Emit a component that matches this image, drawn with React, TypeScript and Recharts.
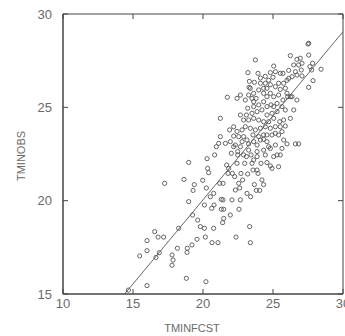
import { ScatterChart, Scatter, XAxis, YAxis, ReferenceLine, CartesianGrid, Label } from "recharts";

const fcst = [
  14.67, 16.0, 15.48, 16.0, 16.0, 16.55, 16.64, 16.79, 16.88, 17.19, 17.26, 17.79, 17.79, 17.86, 18.17, 18.26,
  18.64, 18.81, 18.86, 18.88, 18.98, 18.98, 19.21, 19.26, 19.29, 19.38, 19.57, 19.62, 19.81, 19.98, 20.1, 20.1,
  20.17, 20.21, 20.24, 20.29, 20.33, 20.4, 20.52, 20.62, 20.64, 20.76, 20.76, 20.79, 20.83, 20.95, 21.07, 21.12,
  21.19, 21.24, 21.24, 21.31, 21.31, 21.4, 21.43, 21.43, 21.48, 21.48, 21.6, 21.69, 21.74, 21.79, 21.83, 21.9,
  21.95, 22.02, 22.07, 22.1, 22.19, 22.19, 22.26, 22.31, 22.36, 22.43, 22.43, 22.48, 22.55, 22.57, 22.62, 22.67,
  22.67, 22.71, 22.79, 22.83, 22.9, 22.98, 23.02, 23.1, 23.14, 23.19, 23.26, 23.29, 23.33, 23.38, 23.4, 23.43,
  23.5, 23.57, 23.62, 23.67, 23.74, 23.81, 23.86, 23.93, 24.05, 24.14, 24.21, 24.33, 24.45, 24.57, 24.69, 24.81,
  24.93, 25.05, 25.17, 25.29, 25.4, 25.52, 25.64, 25.76, 25.88, 26.0, 26.24, 26.48, 26.6, 26.71, 26.83, 26.36,
  // upper cluster
  27.5, 27.55, 27.55, 27.55, 27.83, 27.86, 28.43, 27.76, 27.64, 26.95, 27.07, 26.71, 26.83, 26.48, 26.6, 26.24,
  26.12, 26.12, 26.36, 26.71, 27.02, 27.07, 26.0, 25.76, 25.52, 25.71, 25.05, 24.81, 25.0, 24.69, 24.81, 24.45,
  24.33, 24.57, 25.17, 25.4, 25.52, 25.88, 26.0, 26.24, 26.05, 25.71, 25.4, 25.05, 24.81, 24.57, 24.33, 23.98,
  24.1, 23.93, 23.62, 23.5, 23.26, 23.02, 23.19, 23.62, 23.98, 24.33, 24.57, 24.86, 25.05, 25.29, 25.64, 25.88,
  25.29, 24.93, 24.57, 24.21, 23.86, 23.5, 23.1, 22.67, 22.9, 23.26, 23.62, 23.98, 24.33, 24.69, 25.05, 25.48,
  25.76, 25.52, 25.17, 24.81, 24.45, 24.1, 23.74, 23.38, 22.79, 22.43, 22.19, 22.55, 22.9, 23.57, 23.98, 24.33,
  24.57, 24.93, 25.17, 25.4, 25.64, 24.1, 24.33, 24.57, 23.86, 23.62, 23.14, 22.67, 22.31, 21.95, 22.48, 23.26,
  23.86, 24.33, 24.81, 23.86, 23.21, 23.31, 23.38, 23.67, 24.1, 24.45, 25.17, 23.62, 23.79,
];
const obs = [
  15.21, 15.45, 17.04, 17.86, 17.32, 18.34, 16.96, 18.05, 17.21, 18.05, 20.93, 17.09, 16.54, 16.82, 17.45, 18.52,
  21.14, 15.84, 17.23, 17.45, 22.05, 19.95, 17.63, 19.23, 20.55, 20.86, 17.93, 18.96, 18.61, 21.09, 19.77, 18.52,
  18.05, 15.66, 20.68, 22.25, 21.73, 21.5, 20.21, 19.59, 17.75, 18.52, 20.39, 19.77, 22.45, 22.89, 17.75, 23.07,
  20.93, 23.43, 24.41, 20.07, 19.54, 18.82, 20.93, 20.04, 19.54, 19.05, 23.07, 21.91, 25.54, 21.46, 21.73, 23.79,
  19.23, 22.54, 20.04, 21.46, 23.46, 22.89, 21.29, 20.57, 18.05, 22.0, 25.48, 22.45, 20.93, 19.54, 20.68, 20.04,
  25.66, 21.46, 23.16, 21.11, 22.45, 22.0, 23.96, 22.36, 20.39, 21.43, 23.04, 26.07, 18.61, 17.75, 20.21, 22.45,
  22.0, 21.64, 22.18, 20.86, 27.54, 20.55, 21.64, 21.46, 20.55, 22.0, 21.11, 20.86, 22.45, 22.04, 22.89, 21.86,
  21.73, 22.36, 22.98, 22.45, 21.82, 22.45, 22.8, 23.25, 24.0, 23.04, 24.41, 24.86, 23.04, 25.39, 23.04, 25.57,
  // upper cluster
  28.39, 28.43, 27.8, 26.07, 27.36, 26.43, 27.04, 27.0, 27.18, 27.63, 27.36, 27.57, 27.27, 27.27, 26.91, 27.77,
  26.98, 26.55, 26.64, 26.73, 27.0, 26.68, 26.45, 26.29, 26.82, 26.82, 27.21, 26.86, 26.61, 26.45, 26.21, 26.29,
  26.02, 26.02, 26.11, 26.29, 25.96, 26.02, 25.75, 25.57, 25.57, 25.39, 25.66, 25.57, 25.75, 25.57, 25.75, 25.93,
  26.29, 26.82, 25.75, 25.48, 25.66, 25.39, 24.95, 25.04, 25.13, 25.3, 25.04, 25.13, 25.04, 25.21, 25.04, 24.86,
  24.77, 24.68, 24.59, 24.86, 24.77, 24.68, 24.59, 24.59, 24.32, 24.32, 24.41, 24.32, 24.23, 24.23, 24.41, 24.23,
  24.32, 23.96, 23.96, 23.88, 23.96, 23.88, 23.79, 23.88, 23.79, 23.71, 23.96, 23.43, 23.43, 23.52, 23.43, 23.52,
  23.52, 23.52, 23.61, 23.52, 23.7, 23.25, 23.29, 23.16, 22.98, 23.16, 23.25, 22.89, 22.98, 23.16, 22.63, 22.71,
  22.63, 22.71, 22.8, 22.36, 26.86, 26.39, 26.02, 26.34, 26.57, 26.66, 26.91, 25.3, 25.48,
];

// fitted line end points
const fitFcst = [14.4, 30];
const fitObs = [15, 29.05];

const xTicks = [10, 15, 20, 25, 30];
const yTicks = [15, 20, 25, 30];

const ink = "#444444";
const textInk = "#6a6a6a";

const W = 345;
const H = 336;
const margin = { top: 14, right: 2, bottom: 0, left: 0 };
const yAxisW = 63;
const xAxisH = 42;
const plotW = W - margin.left - margin.right - yAxisW;
const plotH = H - margin.top - margin.bottom - xAxisH;

const points = fcst.map((x, i) => ({ x, y: obs[i] }));

// bottom tick marks point inward, mirrored on the top edge
function BottomTick(props: any) {
  const { x, y, payload } = props;
  return (
    <g>
      <path d={`M${x},${y}v-5M${x},${y - plotH}v5`} stroke={ink} strokeWidth={1} fill="none" />
      <text x={x} y={y + 5} dy="0.71em" textAnchor="middle" fill={textInk} fontSize={13}>
        {payload.value}
      </text>
    </g>
  );
}

// left tick marks point inward, mirrored on the right edge
function LeftTick(props: any) {
  const { x, y, payload } = props;
  return (
    <g>
      <path d={`M${x},${y}h5M${x + plotW},${y}h-5`} stroke={ink} strokeWidth={1} fill="none" />
      <text x={x - 11} y={y} dy="0.35em" textAnchor="end" fill={textInk} fontSize={13}>
        {payload.value}
      </text>
    </g>
  );
}

function Ring(props: any) {
  const { cx, cy } = props;
  if (cx == null || cy == null) return null;
  return <circle cx={cx} cy={cy} r={2.1} fill="none" stroke="#555" strokeWidth={0.9} />;
}

export default function App() {
  return (
    <div
      style={{
        position: "absolute",
        left: 0,
        top: 0,
        width: W,
        height: H,
        background: "#fff",
        fontFamily: "'Liberation Sans', Arial, sans-serif",
      }}
    >
      <ScatterChart width={W} height={H} margin={margin}>
        {/* frame: grid lines only on the four edges of the plot */}
        <CartesianGrid
          stroke={ink}
          strokeDasharray=""
          horizontalCoordinatesGenerator={({ offset }: any) => [offset.top, offset.top + offset.height]}
          verticalCoordinatesGenerator={({ offset }: any) => [offset.left, offset.left + offset.width]}
        />
        <XAxis
          type="number"
          dataKey="x"
          domain={[10, 30]}
          ticks={xTicks}
          interval={0}
          height={xAxisH}
          tickSize={0}
          tickMargin={0}
          axisLine={{ stroke: ink }}
          tickLine={false}
          tick={<BottomTick />}
          allowDataOverflow
        >
          <Label
            content={(p: any) => {
              const vb = p.viewBox;
              return (
                <text
                  x={vb.x + vb.width / 2 - 11}
                  y={vb.y + vb.height - 4}
                  textAnchor="middle"
                  fill={textInk}
                  fontSize={11}
                >
                  TMINFCST
                </text>
              );
            }}
          />
        </XAxis>
        <YAxis
          type="number"
          dataKey="y"
          domain={[15, 30]}
          ticks={yTicks}
          interval={0}
          width={yAxisW}
          tickSize={0}
          tickMargin={0}
          axisLine={{ stroke: ink }}
          tickLine={false}
          tick={<LeftTick />}
          allowDataOverflow
        >
          <Label
            content={(p: any) => {
              const vb = p.viewBox;
              const cx = 21;
              const cy = vb.y + vb.height / 2 + 2;
              return (
                <text
                  x={cx}
                  y={cy}
                  dy="0.35em"
                  textAnchor="middle"
                  fill={textInk}
                  fontSize={11}
                  transform={`rotate(-90 ${cx} ${cy})`}
                >
                  TMINOBS
                </text>
              );
            }}
          />
        </YAxis>
        <ReferenceLine
          segment={[
            { x: fitFcst[0], y: fitObs[0] },
            { x: fitFcst[1], y: fitObs[1] },
          ]}
          stroke="#666"
          strokeWidth={1}
          ifOverflow="visible"
        />
        <Scatter data={points} shape={<Ring />} isAnimationActive={false} />
      </ScatterChart>
    </div>
  );
}
